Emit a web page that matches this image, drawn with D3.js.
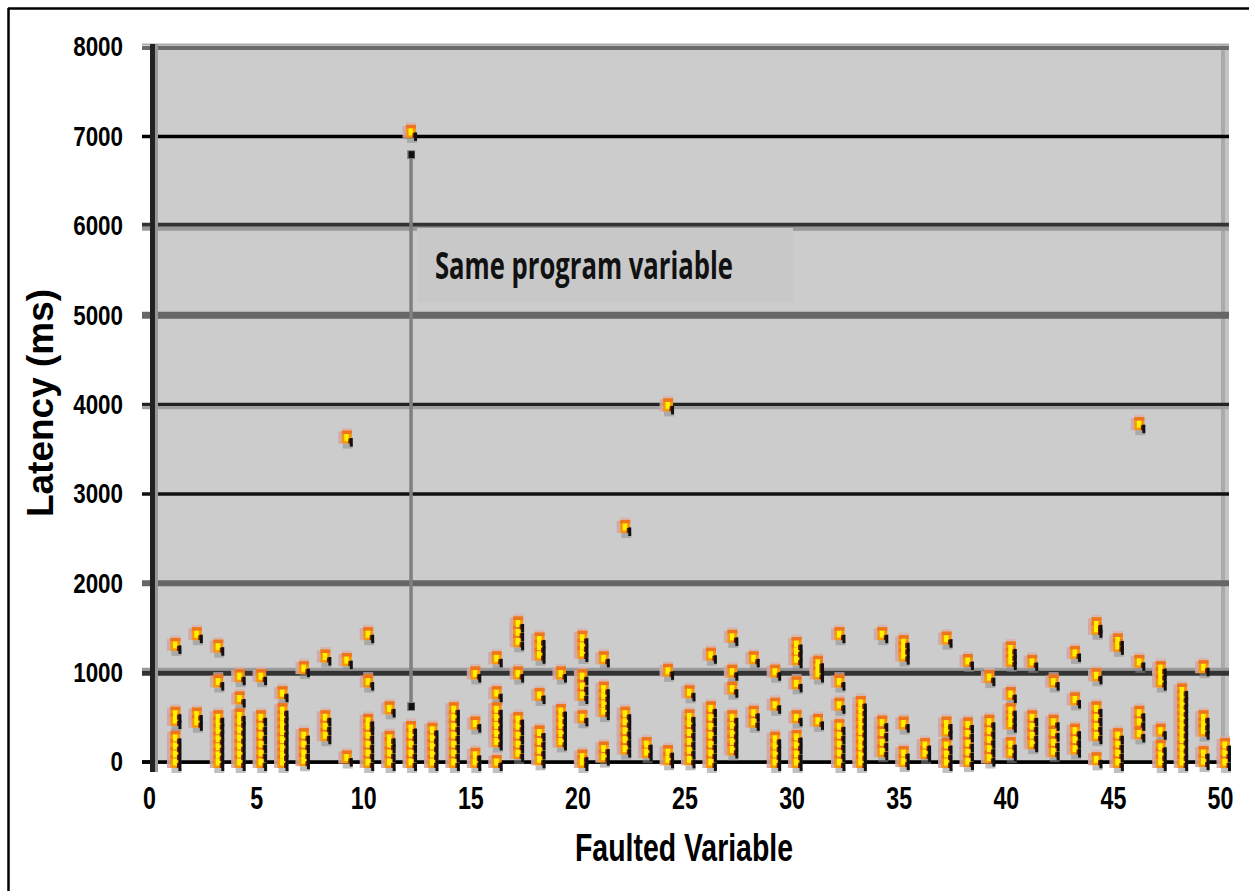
<!DOCTYPE html>
<html>
<head>
<meta charset="utf-8">
<script src="https://cdn.jsdelivr.net/npm/d3@7"></script>
<style>
  html, body { margin: 0; padding: 0; background: #fff; }
  svg { display: block; }
</style>
</head>
<body>
<svg id="chart" width="1249" height="891"></svg>
<script>
// Tick labels
const xTicks = [0, 5, 10, 15, 20, 25, 30, 35, 40, 45, 50];
const yTicks = [0, 1000, 2000, 3000, 4000, 5000, 6000, 7000, 8000];

// Faulted variable index for each group of measurements
const faultedVariable = [
  1, 2, 3, 4, 5, 6, 7, 8, 9, 10,
  11, 12, 13, 14, 15, 16, 17, 18, 19, 20,
  21, 22, 23, 24, 25, 26, 27, 28, 29, 30,
  31, 32, 33, 34, 35, 36, 37, 38, 39, 40,
  41, 42, 43, 44, 45, 46, 47, 48, 49, 50
];

// Detection latency (ms) observed for each faulted variable
const latencyMs = [
  [0, 90, 180, 270, 470, 540, 1310],
  [450, 530, 1430],
  [0, 80, 170, 260, 350, 430, 500, 900, 1290],
  [0, 90, 180, 270, 360, 450, 520, 710, 960],
  [0, 100, 200, 300, 400, 500, 960],
  [0, 80, 160, 250, 340, 420, 500, 580, 770],
  [20, 100, 200, 300, 1050],
  [300, 400, 500, 1180],
  [50, 1140, 3630],
  [0, 100, 200, 300, 400, 460, 900, 1430],
  [0, 100, 200, 270, 600],
  [0, 100, 200, 300, 380, 7050],
  [0, 90, 180, 270, 360],
  [0, 100, 200, 300, 400, 500, 590],
  [0, 80, 430, 990],
  [0, 230, 320, 410, 500, 590, 770, 1160],
  [100, 200, 300, 400, 480, 990, 1350, 1450, 1550],
  [30, 130, 230, 330, 750, 1200, 1290, 1370],
  [230, 320, 410, 490, 570, 990],
  [0, 60, 500, 750, 850, 960, 1220, 1300, 1390],
  [60, 150, 570, 650, 740, 820, 1160],
  [150, 250, 350, 450, 540, 2630],
  [110, 200],
  [30, 110, 1020, 3990],
  [30, 130, 230, 330, 430, 510, 780],
  [0, 100, 200, 300, 400, 500, 600, 1200],
  [140, 230, 320, 410, 500, 820, 1010, 1400],
  [450, 550, 1160],
  [0, 90, 180, 260, 640, 1010],
  [0, 90, 190, 280, 500, 880, 1150, 1240, 1320],
  [460, 990, 1060, 1110],
  [0, 100, 200, 300, 400, 640, 900, 1430],
  [0, 80, 170, 250, 340, 420, 500, 580, 660],
  [120, 220, 330, 440, 1430],
  [10, 100, 430, 1190, 1270, 1340],
  [100, 190],
  [0, 90, 190, 350, 430, 1380],
  [10, 110, 210, 320, 420, 1130],
  [50, 150, 250, 350, 450, 950],
  [110, 200, 430, 500, 580, 760, 1130, 1200, 1270],
  [210, 300, 400, 500, 1120],
  [120, 220, 330, 450, 900],
  [150, 250, 350, 700, 1220],
  [30, 300, 400, 500, 600, 970, 1490, 1540],
  [0, 100, 200, 300, 1300, 1360],
  [320, 450, 550, 1120, 3780],
  [0, 80, 170, 350, 900, 980, 1050],
  [0, 80, 160, 250, 330, 410, 490, 570, 650, 730, 800],
  [10, 100, 350, 420, 500, 1060],
  [0, 100, 190]
];

// Callout: every measurement along this span comes from one program variable
const calloutVariable = 12;
const calloutFromMs = 6790;
const calloutToMs = 615;
const calloutText = "Same program variable";

const xTitle = "Faulted Variable";
const yTitle = "Latency (ms)";

// ---------------------------------------------------------------
const svg = d3.select("#chart");
const sans = "'Liberation Sans', Arial, sans-serif";

const x = d3.scaleLinear().domain([0, 50]).range([153, 1224]);
const y = d3.scaleLinear().domain([0, 8000]).range([762, 47]);

const plotLeft = 142, plotRight = 1229, plotTop = 44;

// outer frame (left and top edges)
svg.append("line").attr("x1", 8).attr("x2", 1249).attr("y1", 8.5).attr("y2", 8.5)
  .attr("stroke", "#000").attr("stroke-width", 2.5);
svg.append("line").attr("x1", 8.5).attr("x2", 8.5).attr("y1", 8).attr("y2", 891)
  .attr("stroke", "#000").attr("stroke-width", 2.5);

// plot background
svg.append("rect")
  .attr("x", x(0)).attr("y", plotTop)
  .attr("width", plotRight - x(0)).attr("height", y(0) - plotTop)
  .attr("fill", "#cccccc");

// right edge of plot area
svg.append("rect").attr("x", 1221).attr("y", plotTop).attr("width", 4).attr("height", y(0) - plotTop)
  .attr("fill", "#aaaaaa");
svg.append("rect").attr("x", 1225).attr("y", plotTop).attr("width", 4).attr("height", y(0) - plotTop)
  .attr("fill", "#c4c4c4");

// gridlines: each line is a stack of [offset, width, colour] bands
const gridLook = {
  0:    [[0, 3.5, "#000"]],
  1000: [[-3.5, 3, "#9a9a9a"], [0.5, 5, "#333"]],
  2000: [[0, 6, "#666"]],
  3000: [[0, 3.5, "#111"]],
  4000: [[0, 3.5, "#222"], [3.2, 3, "#a0a0a0"]],
  5000: [[0, 7, "#666"]],
  6000: [[-1, 4, "#333"], [3, 4, "#999"]],
  7000: [[0, 3.5, "#000"]],
  8000: [[-2.5, 2, "#aaa"], [1, 4, "#6a6a6a"]]
};
const grid = svg.append("g").attr("class", "grid");
yTicks.forEach(t => {
  (gridLook[t] || [[0, 3, "#000"]]).forEach(([off, w, c]) => {
    grid.append("line")
      .attr("x1", plotLeft).attr("x2", plotRight)
      .attr("y1", y(t) + off).attr("y2", y(t) + off)
      .attr("stroke", c).attr("stroke-width", w);
  });
});

// callout box and text
const box = svg.append("g").attr("class", "callout");
box.append("rect").attr("x", 417).attr("y", 228).attr("width", 376).attr("height", 74)
  .attr("fill", "#c8c8c8");
box.append("text").attr("x", 435).attr("y", 279)
  .attr("font-family", "'Open Sans', 'Noto Sans', sans-serif")
  .attr("font-weight", 700).attr("font-size", 37)
  .attr("textLength", 298).attr("lengthAdjust", "spacingAndGlyphs")
  .attr("fill", "#111").text(calloutText);

// left value axis
svg.append("rect").attr("x", 150).attr("y", plotTop).attr("width", 5).attr("height", 728).attr("fill", "#222");
svg.append("rect").attr("x", 155).attr("y", plotTop).attr("width", 3).attr("height", 728).attr("fill", "#999");

// callout leader
const cx = x(calloutVariable) + 1;
box.append("line").attr("x1", cx).attr("x2", cx)
  .attr("y1", y(calloutFromMs)).attr("y2", y(calloutToMs))
  .attr("stroke", "#808080").attr("stroke-width", 3.5);
[calloutFromMs, calloutToMs].forEach(v => {
  box.append("rect").attr("x", cx - 4).attr("y", y(v) - 5).attr("width", 8).attr("height", 9).attr("fill", "#8a8a8a");
  box.append("rect").attr("x", cx - 2.5).attr("y", y(v) - 4).attr("width", 6).attr("height", 7).attr("fill", "#111");
});

// points
const points = [];
faultedVariable.forEach((v, i) => latencyMs[i].forEach(ms => points.push({ v, ms })));

const px = d => x(d.v) + 1;
const py = d => y(d.ms);
const marks = svg.append("g").attr("class", "points");

function layer(cls, dx, dy, w, h, fill, op) {
  marks.append("g").attr("class", cls).selectAll("rect").data(points).join("rect")
    .attr("x", d => px(d) + dx).attr("y", d => py(d) + dy)
    .attr("width", w).attr("height", h)
    .attr("fill", fill).attr("opacity", op == null ? 1 : op);
}
layer("halo-left", -8.5, -6, 4, 12, "#d4a6a2", 0.9);
layer("halo-top", -5, -9.5, 10, 3, "#d8aea8", 0.7);
layer("halo-below", -4, 6, 10, 5, "#8c8c8c", 0.55);
layer("body", -5, -7, 10, 13, "#f5960e");
layer("body-top", -5, -7, 10, 3.5, "#ee7420");
layer("core", -2.5, -3.5, 4.5, 7, "#fff000");
layer("shadow-red", 1.5, 1, 3, 5, "#7a2000");
layer("shadow", 3, 0.5, 3, 8.5, "#111");

// tick labels (horizontally condensed, tall digits)
function condensed(sel, fontSize, sx, xOff) {
  sel.attr("x", xOff / sx)
    .attr("transform", `scale(${sx},1)`)
    .attr("font-family", sans).attr("font-weight", "bold")
    .attr("font-size", fontSize).attr("fill", "#000");
}
const xAxis = svg.append("g").attr("transform", `translate(0,${y(0)})`)
  .call(d3.axisBottom(x).tickValues(xTicks).tickFormat(d3.format("d")).tickSize(0).tickPadding(25));
xAxis.select(".domain").remove();
xAxis.selectAll("text").call(condensed, 31, 0.75, -4);

const yAxis = svg.append("g").attr("transform", `translate(${x(0)},0)`)
  .call(d3.axisLeft(y).tickValues(yTicks).tickFormat(d3.format("d")).tickSize(0).tickPadding(30));
yAxis.select(".domain").remove();
yAxis.selectAll("text").call(condensed, 28, 0.8, -30);

// x axis line drawn under the points' feet
svg.append("line").attr("x1", plotLeft).attr("x2", plotRight)
  .attr("y1", y(0)).attr("y2", y(0)).attr("stroke", "#000").attr("stroke-width", 3.5)
  .lower();
marks.raise();
xAxis.raise();

// axis titles
svg.append("text")
  .attr("x", 684).attr("y", 861).attr("text-anchor", "middle")
  .attr("font-family", sans).attr("font-weight", "bold").attr("font-size", 38)
  .attr("textLength", 218).attr("lengthAdjust", "spacingAndGlyphs")
  .text(xTitle);

svg.append("text")
  .attr("transform", "translate(53,403) rotate(-90)")
  .attr("text-anchor", "middle")
  .attr("font-family", sans).attr("font-weight", "bold").attr("font-size", 37)
  .text(yTitle);
</script>
</body>
</html>
